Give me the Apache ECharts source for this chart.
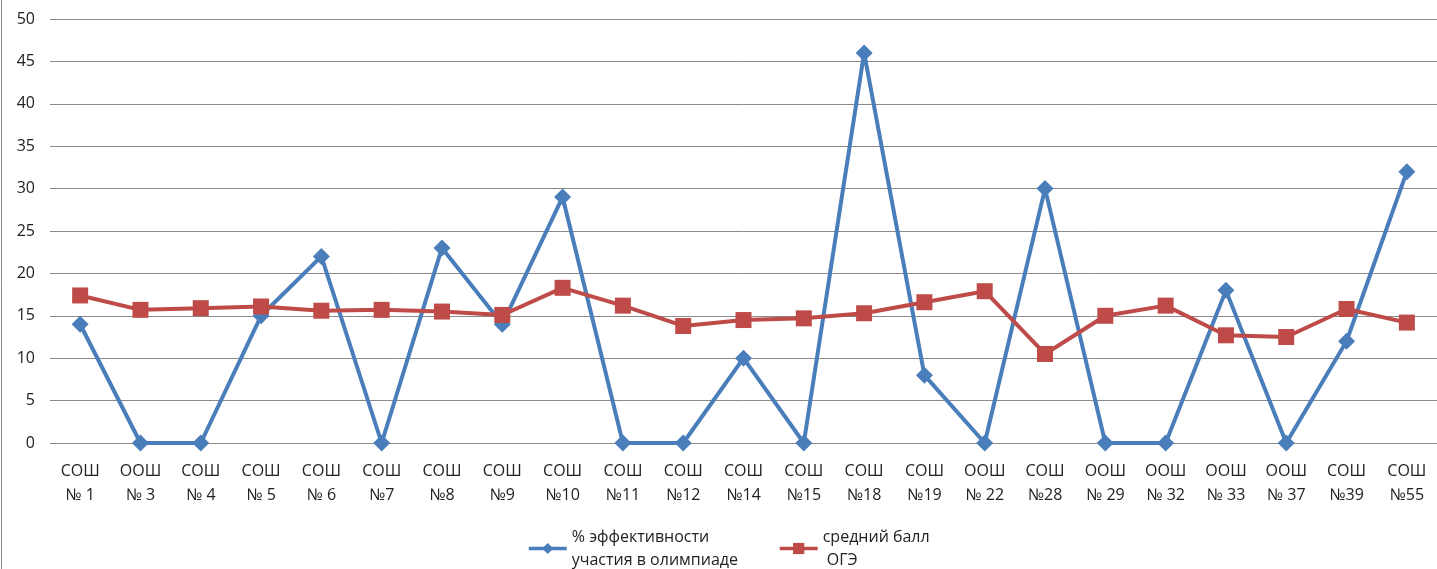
<!DOCTYPE html>
<html>
<head>
<meta charset="utf-8">
<script src="https://cdn.jsdelivr.net/npm/echarts@6/dist/echarts.min.js"></script>
<style>
html,body{margin:0;padding:0;background:#fff;}
#c{width:1437px;height:569px;}
</style>
</head>
<body>
<div id="c"></div>
<script>
const categories = ["СОШ\n№ 1","ООШ\n№ 3","СОШ\n№ 4","СОШ\n№ 5","СОШ\n№ 6","СОШ\n№7","СОШ\n№8","СОШ\n№9","СОШ\n№10","СОШ\n№11","СОШ\n№12","СОШ\n№14","СОШ\n№15","СОШ\n№18","СОШ\n№19","ООШ\n№ 22","СОШ\n№28","ООШ\n№ 29","ООШ\n№ 32","ООШ\n№ 33","ООШ\n№ 37","СОШ\n№39","СОШ\n№55"];
const efficiency = [14,0,0,15,22,0,23,14,29,0,0,10,0,46,8,0,30,0,0,18,0,12,32];
const ogeScore = [17.4,15.7,15.9,16.1,15.6,15.7,15.5,15.1,18.3,16.2,13.8,14.5,14.7,15.3,16.6,17.9,10.5,15.0,16.2,12.7,12.5,15.8,14.2];
const seriesNames = ["% эффективности\nучастия в олимпиаде", "средний балл\n ОГЭ"];
const yTicks = {min:0, max:50, interval:5};

const chart = echarts.init(document.getElementById('c'));
const font = "'Open Sans', 'Liberation Sans', sans-serif";
chart.setOption({
  animation:false,
  backgroundColor:'#fff',
  grid:{left:50, right:0, top:19, bottom:126, containLabel:false},
  legend:{
    left:522, top:509,
    itemWidth:38, itemHeight:14, itemGap:40,
    lineStyle:{width:3.5},
    textStyle:{fontFamily:font, fontSize:16, color:'#222', lineHeight:23, padding:[23,0,0,0]},
    data:seriesNames
  },
  xAxis:{
    type:'category', data:categories, boundaryGap:true,
    axisLine:{show:false}, axisTick:{show:false},
    axisLabel:{interval:0, fontFamily:font, fontSize:16, color:'#222', lineHeight:24, margin:16}
  },
  yAxis:{
    type:'value', min:yTicks.min, max:yTicks.max, interval:yTicks.interval,
    axisLine:{show:false}, axisTick:{show:false},
    axisLabel:{fontFamily:font, fontSize:16, color:'#222', margin:15},
    splitLine:{lineStyle:{color:'#8a8a8a', width:1}}
  },
  graphic:[{type:'line', shape:{x1:1.5,y1:0,x2:1.5,y2:569}, style:{stroke:'#8a8a8a', lineWidth:1}}],
  series:[
    {name:seriesNames[0], type:'line', data:efficiency, symbol:'diamond', symbolSize:17,
     lineStyle:{color:'#4A7EBB', width:4}, itemStyle:{color:'#4A7EBB'}},
    {name:seriesNames[1], type:'line', data:ogeScore, symbol:'rect', symbolSize:16,
     lineStyle:{color:'#BE4B48', width:4}, itemStyle:{color:'#BE4B48'}}
  ]
});
</script>
</body>
</html>
